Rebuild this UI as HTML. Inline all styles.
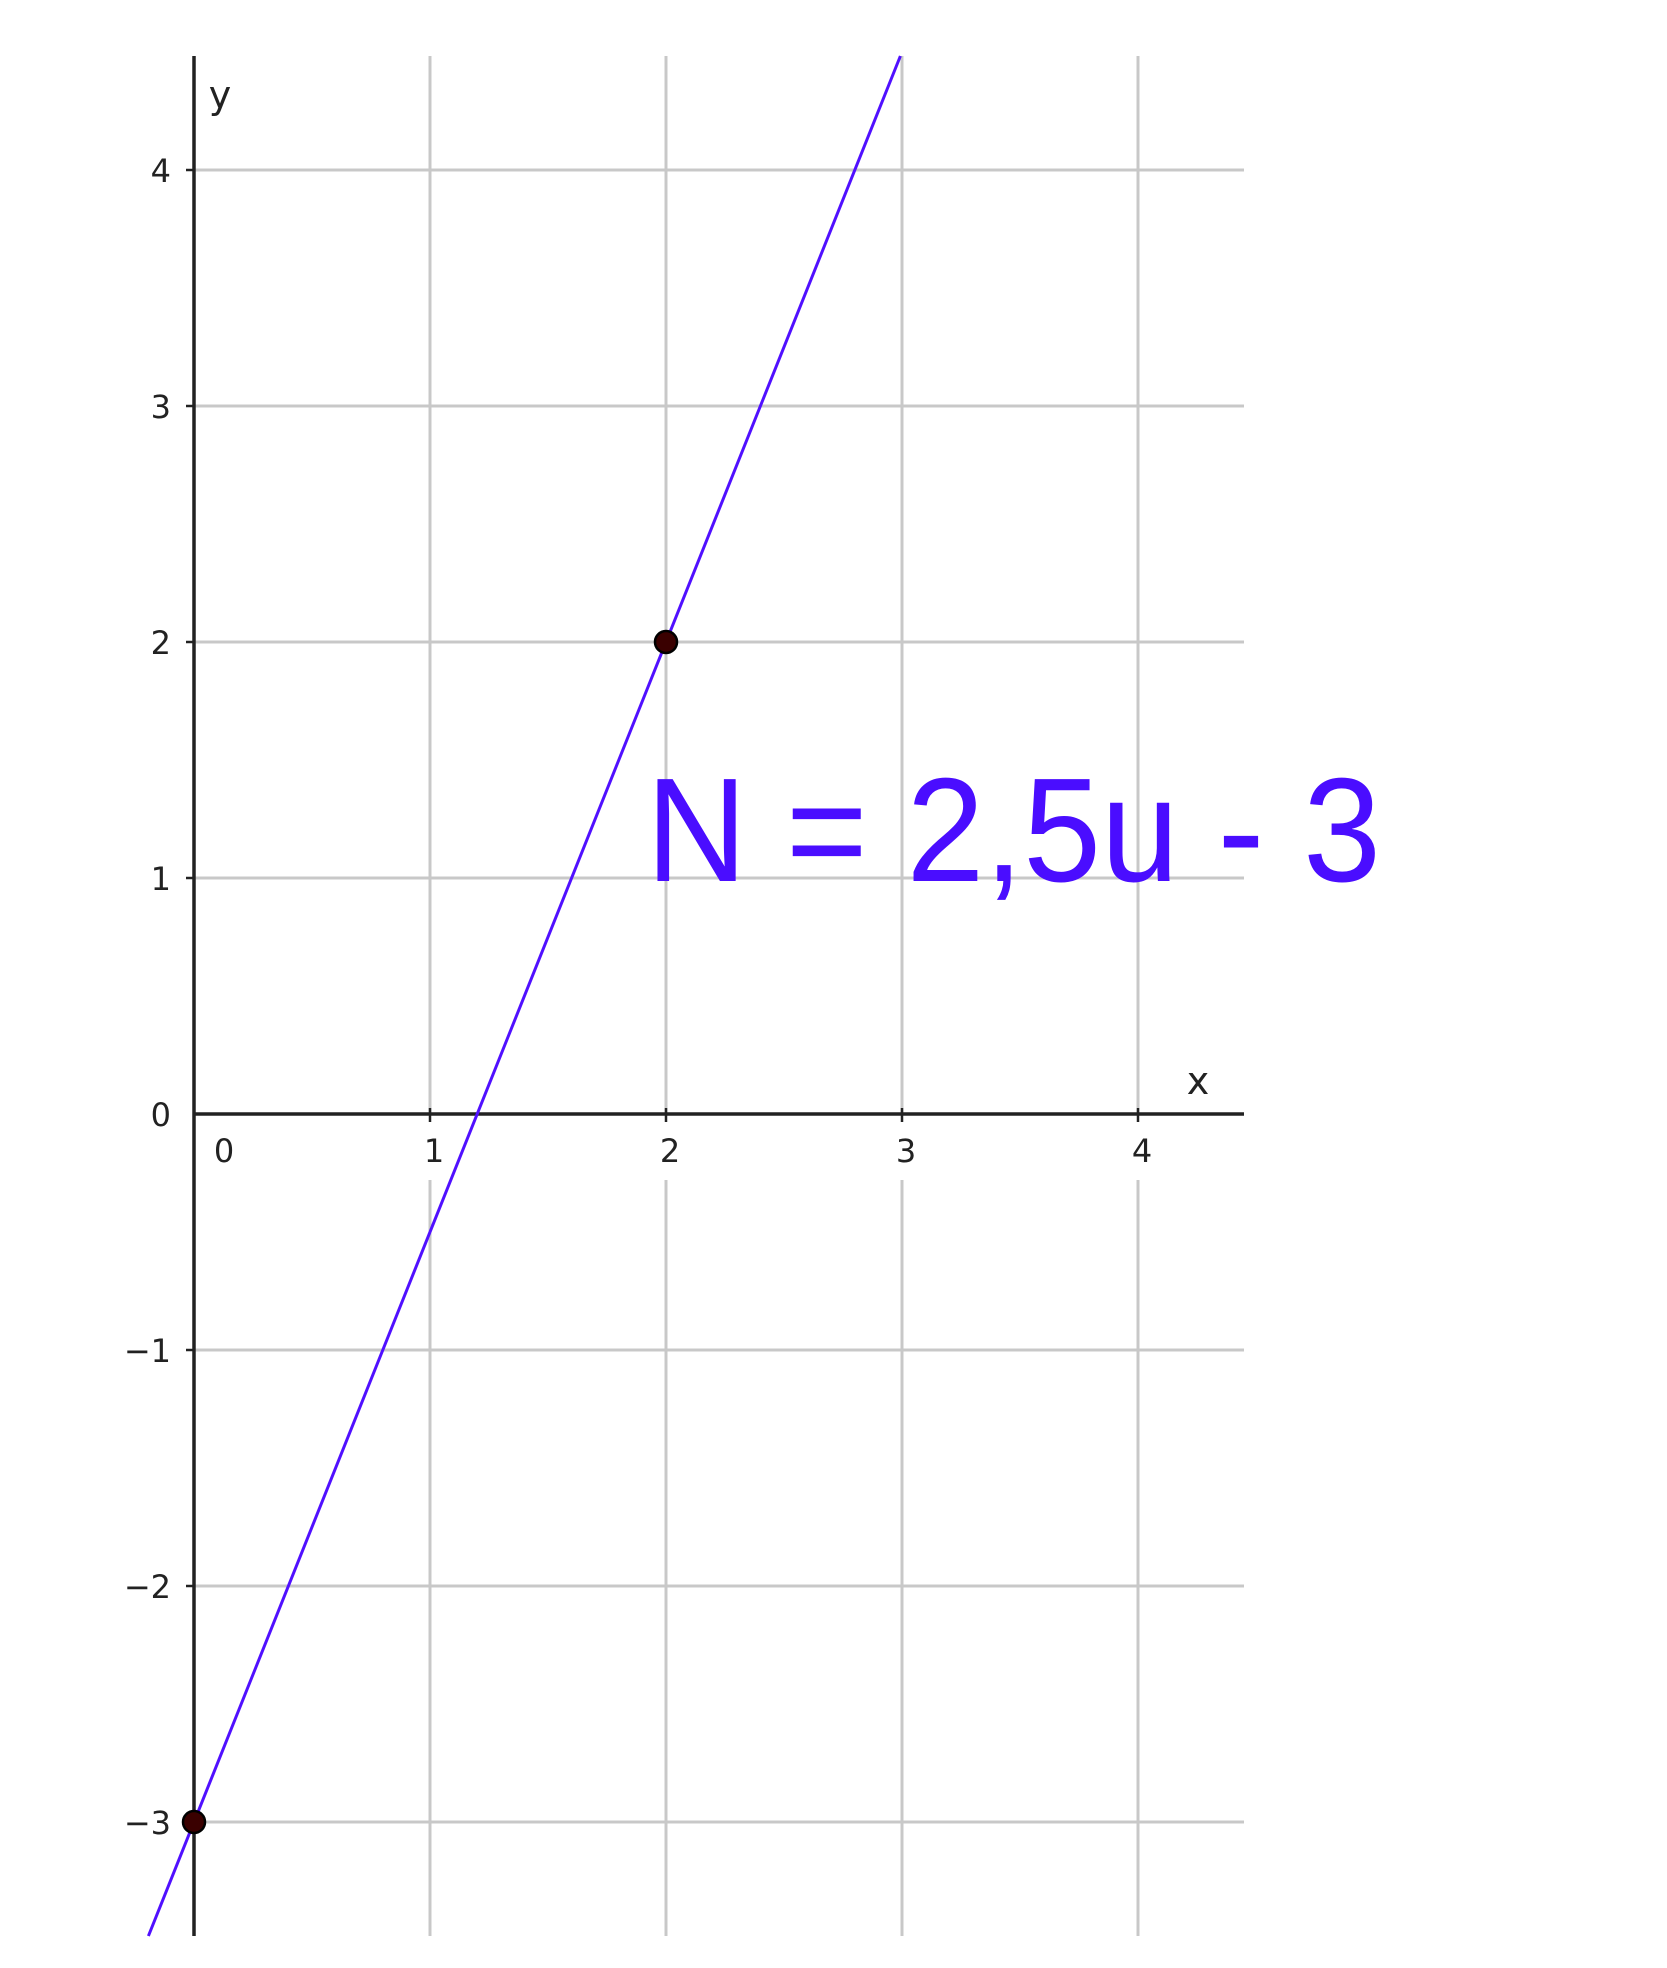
<!DOCTYPE html>
<html><head><meta charset="utf-8"><style>
html,body{margin:0;padding:0;background:#fff;}
svg{display:block;font-family:"DejaVu Sans","Liberation Sans",sans-serif;}
</style></head><body>
<svg id="chart" width="1667" height="1968" viewBox="0 0 1667 1968" xmlns="http://www.w3.org/2000/svg">
<g id="grid"></g>
<g id="axes"></g>
<g id="series"></g>
<text x="646" y="881" font-family="Liberation Sans, sans-serif" font-size="148" fill="#4a0dff" textLength="735" lengthAdjust="spacingAndGlyphs">N = 2,5u - 3</text>
</svg>
<script>
const xTicks = [0, 1, 2, 3, 4];
const yTicks = [-3, -2, -1, 0, 1, 2, 3, 4];
const slope = [2.5];
const intercept = [-3];
const pointsX = [2, 0];
const pointsY = [2, -3];

const X0 = 194, Y0 = 1114, UX = 236, UY = 236;
const TOP = 56, BOTTOM = 1936, RIGHT = 1244;
function sx(v){ return X0 + v*UX; }
function sy(v){ return Y0 - v*UY; }
const NS = "http://www.w3.org/2000/svg";
function mk(tag, attrs, parent){
  const e = document.createElementNS(NS, tag);
  for (const k in attrs) e.setAttribute(k, attrs[k]);
  parent.appendChild(e); return e;
}
const grid = document.getElementById('grid');
const axes = document.getElementById('axes');
const series = document.getElementById('series');

xTicks.forEach(t => {
  if (t === 0) return;
  const x = sx(t);
  const a = mk('line', {x1:x, x2:x, y1:TOP, y2:Y0, stroke:'#c8c8c8', 'stroke-width':3}, grid);
  
  
  const b = mk('line', {x1:x, x2:x, y1:1180, y2:BOTTOM, stroke:'#c8c8c8', 'stroke-width':3}, grid);
  
  
  const tk = mk('line', {x1:x, x2:x, y1:Y0-6, y2:Y0+8, stroke:'#222', 'stroke-width':2.5}, axes);
  
  
});
xTicks.forEach(t => {
  const lbl = mk('text', {x: t===0 ? 224 : sx(t)+4, y:1162, 'text-anchor':'middle', 'font-size':32, fill:'#222'}, axes);
  lbl.textContent = String(t);
  
  
});
yTicks.forEach(t => {
  const y = sy(t);
  if (t !== 0) {
    const g = mk('line', {x1:X0, x2:RIGHT, y1:y, y2:y, stroke:'#c8c8c8', 'stroke-width':3}, grid);
    
    
    const tk = mk('line', {x1:X0-8, x2:X0, y1:y, y2:y, stroke:'#222', 'stroke-width':2.5}, axes);
    
    
  }
  const lbl = mk('text', {x:171, y:y+12, 'text-anchor':'end', 'font-size':32, fill:'#222'}, axes);
  lbl.textContent = t < 0 ? '\u2212' + Math.abs(t) : String(t);
  
  
});
const xa = mk('line', {x1:X0, x2:RIGHT, y1:Y0, y2:Y0, stroke:'#222', 'stroke-width':3.5}, axes);


const ya = mk('line', {x1:X0, x2:X0, y1:TOP, y2:BOTTOM, stroke:'#222', 'stroke-width':3.5}, axes);


const xt = mk('text', {x:1198, y:1094, 'text-anchor':'middle', 'font-size':38, fill:'#222'}, axes);
xt.textContent = 'x';


const yt = mk('text', {x:220, y:108, 'text-anchor':'middle', 'font-size':38, fill:'#222'}, axes);
yt.textContent = 'y';



const yTopVal = (Y0 - TOP)/UY, yBotVal = (Y0 - BOTTOM)/UY;
const m = slope[0], c = intercept[0];
const xA = (yBotVal - c)/m, xB = (yTopVal - c)/m;
const ln = mk('line', {x1:sx(xA), y1:sy(m*xA+c), x2:sx(xB), y2:sy(m*xB+c), stroke:'#5010ff', 'stroke-width':3}, series);


pointsX.forEach((px, i) => {
  const p = mk('circle', {cx:sx(px), cy:sy(pointsY[i]), r:11, fill:'#3a0000', stroke:'#000', 'stroke-width':2.5}, series);
  
  
});
</script>
</body></html>
